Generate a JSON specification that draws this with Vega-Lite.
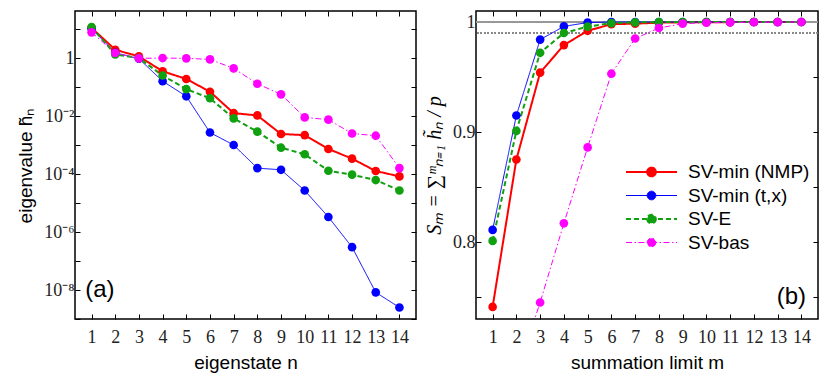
{
  "$schema": "https://vega.github.io/schema/vega-lite/v6.json",
  "background": "white",
  "padding": {"left": 15, "top": 9, "right": 5, "bottom": 3},
  "config": {
    "view": {"stroke": "black", "strokeWidth": 1.5},
    "axis": {"domain": false, "grid": false, "tickColor": "black", "tickSize": -5, "tickWidth": 1, "labelFont": "Liberation Serif", "labelFontSize": 18, "labelColor": "#222", "titleFont": "Liberation Sans", "titleFontSize": 19, "titleFontWeight": "normal", "titleColor": "black", "labelPadding": 6},
    "axisX": {"labelPadding": 14},
    "legend": {
      "orient": "none", "legendX": 550, "legendY": 151, "title": null,
      "symbolType": "M-1,0L1,0M0.17,0A0.17,0.17,0,1,1,-0.17,0A0.17,0.17,0,1,1,0.17,0Z",
      "symbolSize": 2601, "labelFont": "Liberation Sans", "labelFontSize": 19, "labelColor": "black",
      "clipHeight": 20, "rowPadding": 3.5, "labelOffset": 10
    }
  },
  "datasets": {
    "d": [
      {"s": "SV-min (NMP)", "n": 1, "h": 11, "S": 0.741},
      {"s": "SV-min (NMP)", "n": 2, "h": 1.93, "S": 0.875},
      {"s": "SV-min (NMP)", "n": 3, "h": 1.14, "S": 0.954},
      {"s": "SV-min (NMP)", "n": 4, "h": 0.35, "S": 0.979},
      {"s": "SV-min (NMP)", "n": 5, "h": 0.19, "S": 0.992},
      {"s": "SV-min (NMP)", "n": 6, "h": 0.069, "S": 0.998},
      {"s": "SV-min (NMP)", "n": 7, "h": 0.0126, "S": 0.9985},
      {"s": "SV-min (NMP)", "n": 8, "h": 0.0105, "S": 0.9994},
      {"s": "SV-min (NMP)", "n": 9, "h": 0.0024, "S": 0.9997},
      {"s": "SV-min (NMP)", "n": 10, "h": 0.0022, "S": 0.9998},
      {"s": "SV-min (NMP)", "n": 11, "h": 0.00073, "S": 0.9999},
      {"s": "SV-min (NMP)", "n": 12, "h": 0.00034, "S": 1},
      {"s": "SV-min (NMP)", "n": 13, "h": 0.000127, "S": 1},
      {"s": "SV-min (NMP)", "n": 14, "h": 0.000083, "S": 1},
      {"s": "SV-min (t,x)", "n": 1, "h": 10.3, "S": 0.811},
      {"s": "SV-min (t,x)", "n": 2, "h": 1.52, "S": 0.915},
      {"s": "SV-min (t,x)", "n": 3, "h": 0.95, "S": 0.984},
      {"s": "SV-min (t,x)", "n": 4, "h": 0.16, "S": 0.996},
      {"s": "SV-min (t,x)", "n": 5, "h": 0.048, "S": 0.9995},
      {"s": "SV-min (t,x)", "n": 6, "h": 0.0027, "S": 1},
      {"s": "SV-min (t,x)", "n": 7, "h": 0.001, "S": 1},
      {"s": "SV-min (t,x)", "n": 8, "h": 0.00016, "S": 1},
      {"s": "SV-min (t,x)", "n": 9, "h": 0.00014, "S": 1},
      {"s": "SV-min (t,x)", "n": 10, "h": 0.000027, "S": 1},
      {"s": "SV-min (t,x)", "n": 11, "h": 0.0000033, "S": 1},
      {"s": "SV-min (t,x)", "n": 12, "h": 0.0000003, "S": 1},
      {"s": "SV-min (t,x)", "n": 13, "h": 0.0000000083, "S": 1},
      {"s": "SV-min (t,x)", "n": 14, "h": 0.0000000025, "S": 1},
      {"s": "SV-E", "n": 1, "h": 11.7, "S": 0.801},
      {"s": "SV-E", "n": 2, "h": 1.34, "S": 0.901},
      {"s": "SV-E", "n": 3, "h": 1.0, "S": 0.972},
      {"s": "SV-E", "n": 4, "h": 0.25, "S": 0.99},
      {"s": "SV-E", "n": 5, "h": 0.085, "S": 0.9958},
      {"s": "SV-E", "n": 6, "h": 0.041, "S": 0.999},
      {"s": "SV-E", "n": 7, "h": 0.0083, "S": 0.9996},
      {"s": "SV-E", "n": 8, "h": 0.0029, "S": 0.9999},
      {"s": "SV-E", "n": 9, "h": 0.00081, "S": 1},
      {"s": "SV-E", "n": 10, "h": 0.00048, "S": 1},
      {"s": "SV-E", "n": 11, "h": 0.00013, "S": 1},
      {"s": "SV-E", "n": 12, "h": 0.000095, "S": 1},
      {"s": "SV-E", "n": 13, "h": 0.000062, "S": 1},
      {"s": "SV-E", "n": 14, "h": 0.000027, "S": 1},
      {"s": "SV-bas", "n": 1, "h": 7.7, "S": 0.57},
      {"s": "SV-bas", "n": 2, "h": 1.49, "S": 0.68},
      {"s": "SV-bas", "n": 3, "h": 0.98, "S": 0.745},
      {"s": "SV-bas", "n": 4, "h": 1.0, "S": 0.817},
      {"s": "SV-bas", "n": 5, "h": 0.98, "S": 0.886},
      {"s": "SV-bas", "n": 6, "h": 0.9, "S": 0.953},
      {"s": "SV-bas", "n": 7, "h": 0.44, "S": 0.985},
      {"s": "SV-bas", "n": 8, "h": 0.13, "S": 0.9945},
      {"s": "SV-bas", "n": 9, "h": 0.056, "S": 0.9985},
      {"s": "SV-bas", "n": 10, "h": 0.009, "S": 0.9993},
      {"s": "SV-bas", "n": 11, "h": 0.0075, "S": 0.9996},
      {"s": "SV-bas", "n": 12, "h": 0.0025, "S": 0.9998},
      {"s": "SV-bas", "n": 13, "h": 0.0021, "S": 0.9999},
      {"s": "SV-bas", "n": 14, "h": 0.00016, "S": 1}
    ]
  },
  "data": {"name": "d"},
  "spacing": 5,
  "resolve": {"scale": {"color": "shared", "strokeDash": "shared", "strokeWidth": "shared"}, "legend": {"color": "shared", "strokeDash": "shared", "strokeWidth": "shared"}},
  "hconcat": [
    {
      "width": 341, "height": 308,
      "layer": [
        {
          "mark": {"type": "line", "clip": true},
          "encoding": {
            "x": {"field": "n", "type": "quantitative", "scale": {"domain": [0.3, 14.7], "nice": false, "zero": false},
                  "axis": {"values": [1,2,3,4,5,6,7,8,9,10,11,12,13,14], "format": "d", "title": "eigenstate  n", "titlePadding": 7}},
            "y": {"field": "h", "type": "quantitative", "scale": {"type": "log", "domain": [1e-9, 42], "nice": false},
                  "axis": {"values": [1e-9,1e-8,1e-7,1e-6,1e-5,1e-4,1e-3,1e-2,1e-1,1,10],
                           "labelExpr": "round(log(datum.value)/LN10) == 0 ? '1' : round(log(datum.value)/LN10) == -2 ? '10⁻²' : round(log(datum.value)/LN10) == -4 ? '10⁻⁴' : round(log(datum.value)/LN10) == -6 ? '10⁻⁶' : round(log(datum.value)/LN10) == -8 ? '10⁻⁸' : ''",
                           "title": "eigenvalue  h̃ₙ", "titlePadding": 8}},
            "color": {"field": "s", "type": "nominal", "scale": {"domain": ["SV-min (NMP)", "SV-min (t,x)", "SV-E", "SV-bas"], "range": ["#ff0000", "#0000ff", "#10a010", "#ff00ff"]},
                      "legend": {"encode": {"symbols": {"update": {"fill": {"scale": "color", "field": "value"}}}}}},
            "strokeDash": {"field": "s", "type": "nominal", "scale": {"domain": ["SV-min (NMP)", "SV-min (t,x)", "SV-E", "SV-bas"], "range": [[1,0],[1,0],[5,3],[6,2.5,1.5,2.5]]}},
            "strokeWidth": {"field": "s", "type": "nominal", "scale": {"type": "ordinal", "domain": ["SV-min (NMP)", "SV-min (t,x)", "SV-E", "SV-bas"], "range": [2, 1, 2, 1]}}
          }
        },
        {
          "mark": {"type": "point", "filled": true, "size": 75, "opacity": 1, "clip": true},
          "encoding": {
            "x": {"field": "n", "type": "quantitative", "axis": null},
            "y": {"field": "h", "type": "quantitative", "axis": null},
            "color": {"field": "s", "type": "nominal"}
          }
        },
        {
          "mark": {"type": "point", "opacity": 0},
          "encoding": {
            "x": {"field": "n", "type": "quantitative", "axis": {"orient": "top", "labels": false, "title": null, "values": [1,2,3,4,5,6,7,8,9,10,11,12,13,14]}},
            "y": {"field": "h", "type": "quantitative", "axis": {"orient": "right", "labels": false, "title": null, "values": [1e-9,1e-8,1e-7,1e-6,1e-5,1e-4,1e-3,1e-2,1e-1,1,10]}}
          }
        },
        {
          "data": {"values": [{"label": "(a)"}]},
          "mark": {"type": "text", "font": "Liberation Sans", "fontSize": 24, "align": "left", "baseline": "middle", "color": "black"},
          "encoding": {
            "x": {"datum": 0.73, "type": "quantitative", "axis": null},
            "y": {"datum": 1e-8, "type": "quantitative", "axis": null},
            "text": {"field": "label"}
          }
        }
      ],
      "resolve": {"axis": {"x": "independent", "y": "independent"}}
    },
    {
      "width": 342, "height": 308,
      "layer": [
        {
          "mark": {"type": "rule", "color": "#999999", "strokeWidth": 1.3},
          "encoding": {"y": {"datum": 1, "type": "quantitative", "axis": null}}
        },
        {
          "mark": {"type": "rule", "color": "#888888", "strokeWidth": 1, "strokeDash": [1.5, 2]},
          "encoding": {"y": {"datum": 0.99, "type": "quantitative", "axis": null}}
        },
        {
          "mark": {"type": "line", "clip": true},
          "encoding": {
            "x": {"field": "n", "type": "quantitative", "scale": {"domain": [0.3, 14.7], "nice": false, "zero": false},
                  "axis": {"values": [1,2,3,4,5,6,7,8,9,10,11,12,13,14], "format": "d", "title": "summation limit  m", "titlePadding": 7}},
            "y": {"field": "S", "type": "quantitative", "scale": {"domain": [0.73, 1.01], "nice": false, "zero": false},
                  "axis": {"values": [0.75, 0.8, 0.85, 0.9, 0.95, 1],
                           "labelExpr": "datum.value == 1 ? '1' : (datum.value == 0.8 || datum.value == 0.9) ? format(datum.value, '.1f') : ''",
                           "title": "Sₘ = ∑ᵐₙ₌₁ h̃ₙ / p", "titleFont": "Liberation Serif", "titleFontStyle": "italic", "titleFontSize": 20, "titlePadding": 8}},
            "color": {"field": "s", "type": "nominal", "scale": {"domain": ["SV-min (NMP)", "SV-min (t,x)", "SV-E", "SV-bas"], "range": ["#ff0000", "#0000ff", "#10a010", "#ff00ff"]},
                      "legend": {"encode": {"symbols": {"update": {"fill": {"scale": "color", "field": "value"}}}}}},
            "strokeDash": {"field": "s", "type": "nominal", "scale": {"domain": ["SV-min (NMP)", "SV-min (t,x)", "SV-E", "SV-bas"], "range": [[1,0],[1,0],[5,3],[6,2.5,1.5,2.5]]}},
            "strokeWidth": {"field": "s", "type": "nominal", "scale": {"type": "ordinal", "domain": ["SV-min (NMP)", "SV-min (t,x)", "SV-E", "SV-bas"], "range": [2, 1, 2, 1]}}
          }
        },
        {
          "mark": {"type": "point", "filled": true, "size": 75, "opacity": 1, "clip": true},
          "encoding": {
            "x": {"field": "n", "type": "quantitative", "axis": null},
            "y": {"field": "S", "type": "quantitative", "axis": null},
            "color": {"field": "s", "type": "nominal"}
          }
        },
        {
          "mark": {"type": "point", "opacity": 0},
          "encoding": {
            "x": {"field": "n", "type": "quantitative", "axis": {"orient": "top", "labels": false, "title": null, "values": [1,2,3,4,5,6,7,8,9,10,11,12,13,14]}},
            "y": {"field": "S", "type": "quantitative", "axis": {"orient": "right", "labels": false, "title": null, "values": [0.75, 0.8, 0.85, 0.9, 0.95, 1]}}
          }
        },
        {
          "data": {"values": [{"label": "(b)"}]},
          "mark": {"type": "text", "font": "Liberation Sans", "fontSize": 24, "align": "right", "baseline": "middle", "color": "black"},
          "encoding": {
            "x": {"datum": 14.2, "type": "quantitative", "axis": null},
            "y": {"datum": 0.75, "type": "quantitative", "axis": null},
            "text": {"field": "label"}
          }
        }
      ],
      "resolve": {"axis": {"x": "independent", "y": "independent"}}
    }
  ]
}
